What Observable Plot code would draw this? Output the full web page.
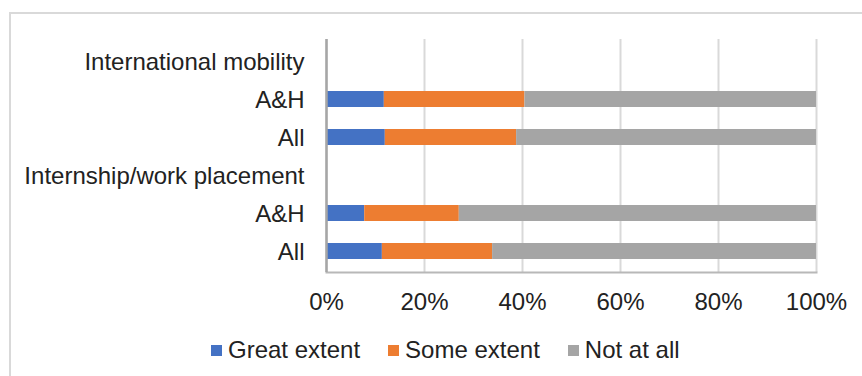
<!DOCTYPE html>
<html>
<head>
<meta charset="utf-8">
<script src="https://cdn.jsdelivr.net/npm/d3@7"></script>
<script src="https://cdn.jsdelivr.net/npm/@observablehq/plot@0.6"></script>
<style>
  html, body { margin: 0; padding: 0; background: #fff; overflow: hidden; }
  #wrap { position: relative; width: 862px; height: 376px; font-family: "Liberation Sans", Arial, sans-serif; color: #222; }
  #frame { position: absolute; left: 9px; top: 12px; width: 900px; height: 400px; border-left: 2px solid #d9d9d9; border-top: 2px solid #d9d9d9; }
  #chart { position: absolute; left: 0; top: 0; }
  #legend { position: absolute; left: 211px; top: 336px; display: flex; align-items: center; gap: 28px; font-size: 24px; line-height: 28px; }
  .item { display: flex; align-items: center; gap: 6px; }
  .swatch { width: 11px; height: 11px; display: inline-block; }
</style>
</head>
<body>
<div id="wrap">
  <div id="frame"></div>
  <div id="chart"></div>
  <div id="legend"></div>
</div>
<script>
// Survey: extent to which students took part, by activity and cohort (percent of respondents)
const groups = ["International mobility", "Internship/work placement"];
const cohorts = ["A&H", "All"];
const responses = ["Great extent", "Some extent", "Not at all"];
const colors = ["#4472C4", "#ED7D31", "#A5A5A5"];

// Order: mobility A&H, mobility All, internship A&H, internship All
const greatExtent = [11.8, 12.0, 7.8, 11.4];
const someExtent = [28.7, 26.8, 19.3, 22.5];
const notAtAll = [59.5, 61.2, 72.9, 66.1];

const xTicks = [0, 20, 40, 60, 80, 100];

// Row keys: a header row per activity followed by one row per cohort
const rowKeys = [];
groups.forEach(g => {
  rowKeys.push(g);
  cohorts.forEach(c => rowKeys.push(g + "|" + c));
});

const seriesValues = [greatExtent, someExtent, notAtAll];
const data = [];
groups.forEach((g, gi) => {
  cohorts.forEach((c, ci) => {
    const i = gi * cohorts.length + ci;
    responses.forEach((r, ri) => {
      data.push({row: g + "|" + c, response: r, value: seriesValues[ri][i]});
    });
  });
});

const font = '"Liberation Sans", Arial, sans-serif';

const chart = Plot.plot({
  width: 862,
  height: 330,
  marginLeft: 326,
  marginRight: 46,
  marginTop: 39,
  marginBottom: 58,
  style: {fontFamily: font, fontSize: "24px", color: "#222", background: "transparent"},
  x: {domain: [0, 100]},
  y: {domain: rowKeys, paddingInner: 0.59, paddingOuter: 0.295},
  color: {domain: responses, range: colors},
  marks: [
    Plot.gridX(xTicks, {stroke: "#d9d9d9", strokeOpacity: 1, strokeWidth: 2}),
    Plot.barX(data, Plot.stackX({x: "value", y: "row", fill: "response", order: responses})),
    Plot.frame({anchor: "bottom", stroke: "#b8b8b8", strokeWidth: 2}),
    Plot.ruleX([0], {stroke: "#a6a6a6", strokeWidth: 2.5}),
    Plot.axisX({ticks: xTicks, tickSize: 0, tickPadding: 20, tickFormat: d => d + "%", label: null, fontSize: "24px"}),
    Plot.axisY({tickSize: 0, tickPadding: 22, label: null, fontSize: "24px", dy: 1,
      tickFormat: k => k.includes("|") ? k.split("|")[1] : k})
  ]
});
document.getElementById("chart").appendChild(chart);

// Legend below the chart
const legend = document.getElementById("legend");
responses.forEach((r, i) => {
  const item = document.createElement("div");
  item.className = "item";
  const sw = document.createElement("span");
  sw.className = "swatch";
  sw.style.background = colors[i];
  const label = document.createElement("span");
  label.textContent = r;
  item.appendChild(sw);
  item.appendChild(label);
  legend.appendChild(item);
});
</script>
</body>
</html>
